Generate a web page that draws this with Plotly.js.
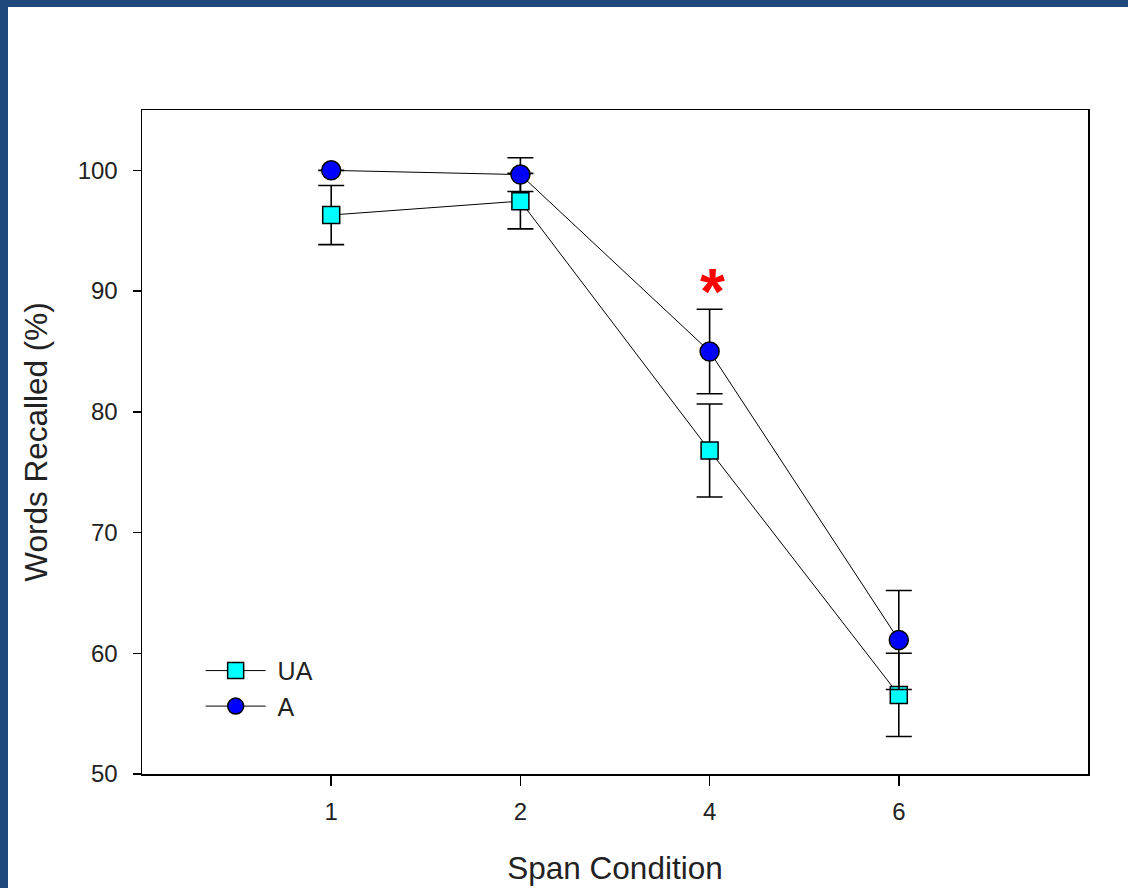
<!DOCTYPE html>
<html>
<head>
<meta charset="utf-8">
<script src="https://cdn.plot.ly/plotly-3.0.1.min.js"></script>
<style>
  html, body { margin: 0; padding: 0; background: #1f497d; width: 1128px; height: 888px; overflow: hidden; }
  #chart { position: absolute; left: 8px; top: 7px; width: 1120px; height: 881px; background: #ffffff; }
</style>
</head>
<body>
<div id="chart"></div>
<script>
const spanConditions = ["1", "2", "4", "6"];
const uaMeans = [96.3, 97.45, 76.8, 56.55];
const uaErrors = [2.45, 2.3, 3.85, 3.45];
const aMeans = [100, 99.65, 85.0, 61.1];
const aErrors = [0, 1.4, 3.5, 4.1];
const yTicks = [50, 60, 70, 80, 90, 100];
const sigMarkCategory = "4";
const sigMarkY = 90.8;

const font = "Arial, 'Liberation Sans', sans-serif";

const traces = [
  {
    name: "\u00a0UA",
    x: spanConditions,
    y: uaMeans,
    type: "scatter",
    mode: "lines+markers",
    line: { color: "#000000", width: 1 },
    marker: { symbol: "square", size: 17, color: "#00ffff", line: { color: "#000000", width: 1.5 } },
    error_y: { type: "data", array: uaErrors, visible: true, color: "#000000", thickness: 1.6, width: 13 }
  },
  {
    name: "\u00a0A",
    x: spanConditions,
    y: aMeans,
    type: "scatter",
    mode: "lines+markers",
    line: { color: "#000000", width: 1 },
    marker: { symbol: "circle", size: 19, color: "#0000ff", line: { color: "#000000", width: 1.5 } },
    error_y: { type: "data", array: aErrors, visible: true, color: "#000000", thickness: 1.6, width: 13 }
  }
];

const layout = {
  width: 1120,
  height: 881,
  paper_bgcolor: "#ffffff",
  plot_bgcolor: "#ffffff",
  margin: { l: 133.5, r: 40, t: 103, b: 114 },
  font: { family: font, color: "#222222" },
  showlegend: true,
  legend: {
    x: 0.062, y: 0.19, xanchor: "left", yanchor: "top",
    font: { family: font, size: 25, color: "#222222" },
    bgcolor: "rgba(0,0,0,0)",
    itemwidth: 60,
    tracegroupgap: 0
  },
  xaxis: {
    type: "category",
    range: [-1, 4],
    showgrid: false,
    zeroline: false,
    showline: true,
    linecolor: "#000000",
    linewidth: 1.5,
    mirror: true,
    ticks: "outside",
    ticklen: 10,
    tickwidth: 1.5,
    tickcolor: "#000000",
    ticklabelstandoff: 6,
    tickfont: { family: font, size: 24, color: "#222222" },
    title: { text: "Span Condition", font: { family: font, size: 31.5, color: "#222222" }, standoff: 32 }
  },
  yaxis: {
    range: [50, 105],
    tickvals: yTicks,
    ticktext: yTicks.map(String),
    showgrid: false,
    zeroline: false,
    showline: true,
    linecolor: "#000000",
    linewidth: 1.5,
    mirror: true,
    ticks: "outside",
    ticklen: 8,
    tickwidth: 1.5,
    tickcolor: "#000000",
    ticklabelstandoff: 10,
    tickfont: { family: font, size: 24, color: "#222222" },
    title: { text: "Words Recalled (%)", font: { family: font, size: 31.5, color: "#222222" }, standoff: 20 }
  },
  annotations: [
    {
      x: spanConditions.indexOf(sigMarkCategory), y: sigMarkY, xref: "x", yref: "y",
      text: "<b>*</b>", showarrow: false,
      font: { family: font, size: 64, color: "#ff0000" },
      xshift: 3, yshift: -11
    }
  ]
};

Plotly.newPlot("chart", traces, layout, { staticPlot: true, displayModeBar: false });
</script>
</body>
</html>
